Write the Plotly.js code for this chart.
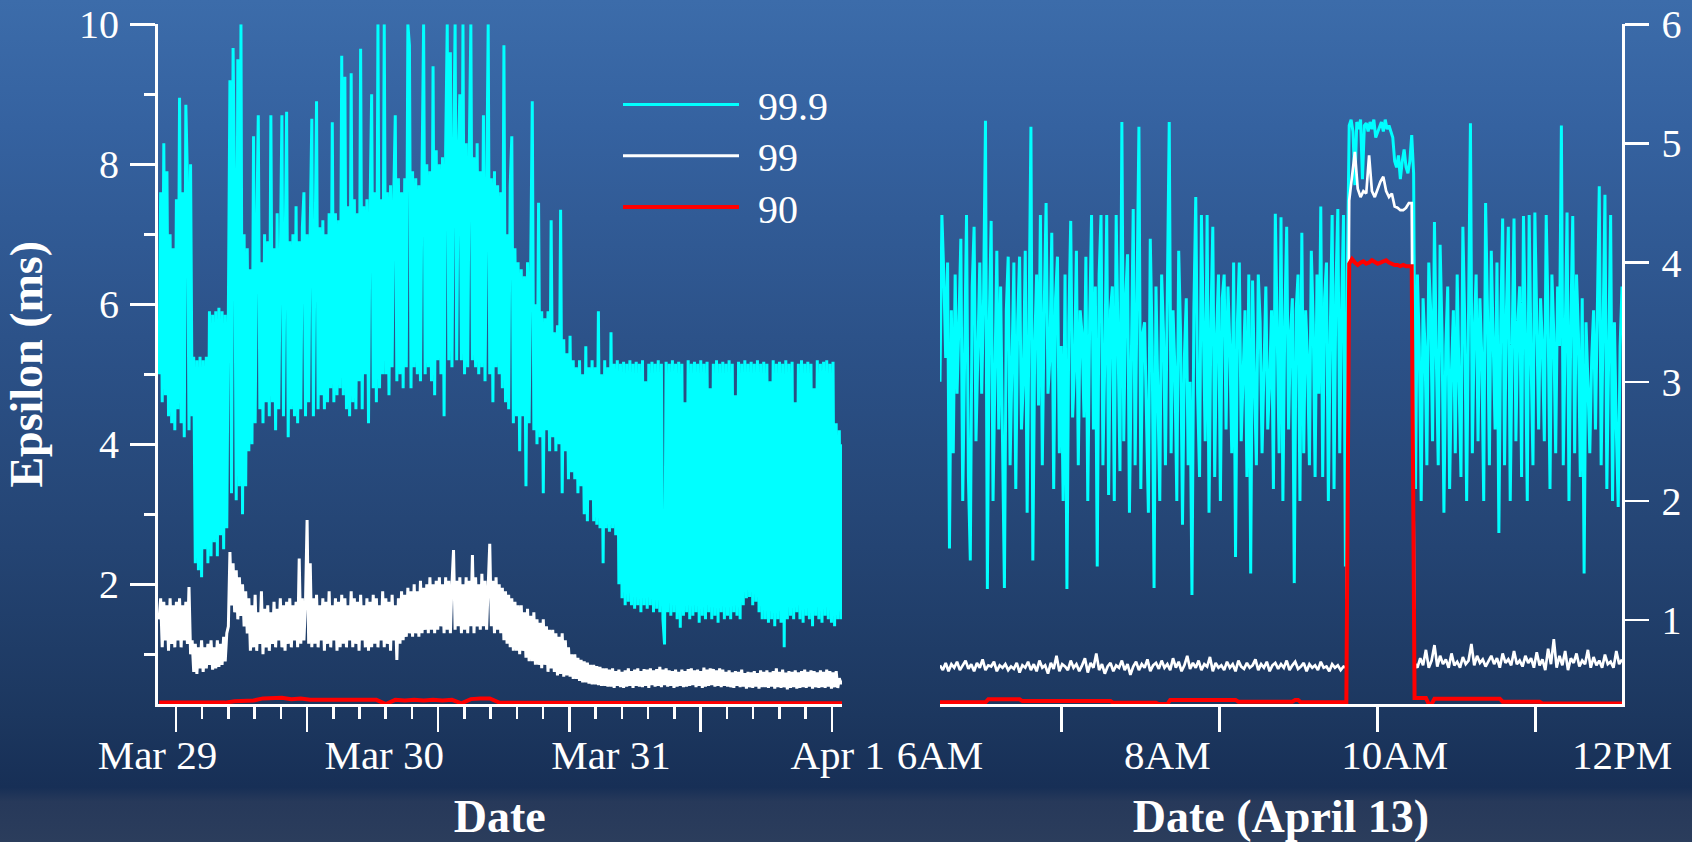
<!DOCTYPE html>
<html>
<head>
<meta charset="utf-8">
<script src="https://cdn.plot.ly/plotly-3.0.1.min.js"></script>
<style>
html,body{margin:0;padding:0;}
#chart{width:1692px;height:842px;
background:linear-gradient(to bottom,#3c6caa 0%,#3562a0 15%,#2c5289 40%,#244473 65%,#1c375f 85%,#172f56 93.5%,#27395a 95.2%,#2b3d5c 100%);}
</style>
</head>
<body>
<div id="chart"></div>
<script>
// ---------------- DATA ----------------
const seriesNames = ['99.9', '99', '90'];

// Left panel: Mar 29 - Apr 1, samples every 10 min starting Mar 29 00:10
const leftStart = '2012-03-29 00:10';
const leftStepMin = 10;
const leftP999 = [
5.0,7.6,4.6,8.3,4.7,7.9,4.4,7.0,4.3,6.8,4.2,7.5,
4.5,8.95,4.3,7.6,4.1,8.85,7.8,4.2,8.0,4.4,5.25,2.3,
5.2,2.2,5.25,2.1,5.2,2.5,5.25,2.3,5.9,2.4,5.85,2.6,
5.9,2.4,5.95,2.7,5.9,2.5,5.85,2.8,5.9,9.2,3.3,9.66,
7.6,3.2,9.5,3.4,10.0,3.0,7.0,3.4,6.8,3.9,6.5,4.0,
8.4,4.3,7.0,8.7,4.5,6.6,4.3,7.0,4.6,6.9,4.4,8.7,
4.6,6.8,4.2,7.3,4.5,6.9,8.7,4.4,7.0,8.75,4.1,6.9,
4.5,7.0,4.4,7.4,4.3,6.9,4.5,7.1,7.6,4.4,7.0,4.6,
7.1,8.65,4.4,7.2,8.9,4.5,7.1,4.7,7.2,4.5,7.0,4.6,
7.3,4.8,8.6,4.6,7.3,4.7,7.2,4.8,9.55,4.7,9.25,4.5,
7.4,4.4,9.3,4.6,7.5,4.5,7.3,4.9,9.65,4.5,7.4,5.0,
7.5,4.3,7.4,9.0,4.8,7.6,4.6,10.0,4.8,7.5,5.0,10.0,
5.0,7.6,4.7,7.7,5.1,7.5,8.7,4.9,7.8,5.0,7.6,4.8,
7.8,5.1,10.0,9.7,4.8,7.9,5.1,7.8,5.0,7.7,4.9,7.9,
10.0,5.0,8.0,5.1,7.9,4.9,9.4,4.7,8.2,5.2,8.0,5.0,
8.1,4.4,8.2,10.0,5.2,9.6,5.1,8.0,10.0,5.2,8.1,9.0,
5.2,10.0,5.0,8.3,5.1,8.2,10.0,5.2,8.1,5.1,8.3,5.0,
7.9,5.1,8.7,4.9,7.9,10.0,5.0,7.8,4.6,7.9,5.1,7.7,
5.0,7.6,4.8,9.7,4.6,7.0,4.5,7.7,8.4,4.3,6.8,4.4,
6.6,3.9,6.5,4.4,6.4,3.4,6.6,4.3,6.5,8.9,4.2,6.0,
4.0,7.45,4.1,5.9,3.3,5.8,4.2,5.9,3.9,7.2,4.1,5.6,
3.9,5.7,4.0,7.35,3.3,5.5,3.9,5.3,3.5,5.55,3.6,5.2,
3.5,5.1,3.3,5.2,3.4,5.0,3.0,5.4,2.9,5.1,3.2,5.2,
2.9,5.1,2.85,5.9,2.8,5.0,2.3,5.2,2.8,5.1,2.75,5.6,
2.8,5.15,2.7,5.2,2.0,5.15,1.8,5.18,1.7,5.15,1.75,5.2,
1.7,5.15,1.65,5.18,1.7,5.15,1.6,5.2,1.7,4.9,1.65,5.15,
1.7,5.18,1.6,5.15,1.65,5.2,1.6,5.15,1.5,1.14,5.18,1.6,
5.15,1.55,5.2,1.6,5.15,1.5,5.18,1.38,5.15,1.55,4.6,1.6,
5.2,1.5,5.15,1.55,5.18,1.6,5.15,1.45,5.2,1.55,5.15,1.5,
5.18,1.6,4.8,1.5,5.15,1.55,5.2,1.45,5.15,1.6,5.18,1.5,
5.15,1.55,5.2,1.5,5.15,1.6,4.7,1.55,5.18,1.5,5.15,1.7,
5.2,1.8,5.15,1.82,5.18,1.7,5.15,1.75,5.2,1.6,5.15,1.5,
5.18,1.5,5.15,1.45,4.9,1.5,5.2,1.4,5.15,1.5,5.18,1.45,
5.15,1.1,5.2,1.5,5.15,1.55,5.18,1.5,4.6,1.6,5.15,1.5,
5.2,1.45,5.15,1.55,5.18,1.5,5.15,1.4,4.8,1.55,5.2,1.5,
5.15,1.45,5.18,1.55,5.2,1.5,5.15,1.45,5.18,1.4,4.3,1.5,
4.2,1.5,4.0
];
const leftP99 = [
1.5,1.8,1.1,1.75,1.2,1.7,1.05,1.8,1.15,1.7,1.1,1.75,
1.2,1.8,1.1,1.7,1.2,1.75,1.15,1.96,1.0,1.2,0.75,1.15,
0.72,1.1,0.8,1.2,0.75,1.1,0.8,1.15,0.85,1.2,0.78,1.1,
0.8,1.2,0.82,1.15,0.85,1.25,0.9,1.3,1.4,2.46,1.7,2.3,
1.6,2.2,1.5,2.1,1.55,2.0,1.4,1.9,1.3,1.8,1.05,1.7,
1.1,1.85,1.05,1.6,1.15,1.9,1.0,1.65,1.1,1.7,1.05,1.6,
1.15,1.75,1.1,1.65,1.2,1.8,1.1,1.7,1.05,1.75,1.15,1.8,
1.1,1.7,1.2,1.75,1.1,2.37,1.15,1.8,1.2,1.75,2.92,1.15,
2.3,1.1,1.8,1.15,1.85,1.1,1.7,1.2,1.8,1.05,1.75,1.15,
1.9,1.1,1.7,1.2,1.8,1.05,1.75,1.1,1.85,1.15,1.8,1.1,
1.7,1.2,1.9,1.1,1.8,1.15,1.75,1.05,1.85,1.2,1.7,1.1,
1.8,1.05,1.75,1.1,1.85,1.15,1.8,1.1,1.7,1.2,1.9,1.1,
1.8,1.15,1.75,1.05,1.85,1.2,1.7,0.92,1.8,1.15,1.9,1.2,
1.85,1.25,1.95,1.3,1.9,1.25,2.0,1.3,1.9,1.25,2.05,1.3,
1.95,1.35,2.0,1.3,2.1,1.35,2.0,1.3,2.05,1.35,2.1,1.4,
2.0,1.3,2.1,1.35,2.05,1.3,2.0,2.49,1.35,2.05,1.4,2.1,
1.3,2.0,1.35,2.1,1.3,2.05,1.4,2.42,1.3,2.1,1.4,2.0,
1.35,2.15,1.4,2.05,1.35,2.1,2.58,1.4,2.05,1.3,2.1,1.35,
2.0,1.3,1.95,1.2,1.9,1.15,1.85,1.1,1.8,1.05,1.75,1.05,
1.7,1.0,1.7,1.05,1.6,0.95,1.65,0.9,1.55,0.9,1.6,0.85,
1.5,0.85,1.45,0.8,1.5,0.85,1.4,0.75,1.35,0.8,1.35,0.75,
1.3,0.7,1.25,0.72,1.3,0.68,1.2,0.7,1.1,0.68,1.0,0.65,
1.0,0.65,0.95,0.62,0.92,0.6,0.9,0.6,0.88,0.58,0.85,0.57,
0.85,0.57,0.83,0.56,0.82,0.55,0.8,0.55,0.8,0.54,0.78,0.54,
0.8,0.52,0.76,0.55,0.78,0.53,0.75,0.52,0.77,0.54,0.8,0.55,
0.76,0.52,0.78,0.55,0.8,0.54,0.76,0.53,0.79,0.55,0.78,0.52,
0.8,0.56,0.77,0.54,0.79,0.55,0.82,0.53,0.78,0.56,0.8,0.54,
0.77,0.55,0.76,0.52,0.78,0.54,0.75,0.55,0.78,0.53,0.76,0.54,
0.79,0.55,0.8,0.56,0.77,0.53,0.78,0.55,0.76,0.52,0.81,0.54,
0.78,0.55,0.8,0.56,0.79,0.54,0.77,0.55,0.8,0.53,0.78,0.55,
0.75,0.54,0.77,0.53,0.74,0.52,0.76,0.55,0.75,0.53,0.78,0.54,
0.73,0.51,0.75,0.53,0.74,0.52,0.76,0.54,0.73,0.51,0.77,0.53,
0.75,0.53,0.77,0.52,0.74,0.54,0.76,0.51,0.8,0.53,0.75,0.52,
0.78,0.53,0.74,0.5,0.76,0.52,0.75,0.53,0.77,0.51,0.74,0.52,
0.76,0.53,0.78,0.52,0.75,0.54,0.77,0.51,0.76,0.53,0.74,0.52,
0.77,0.53,0.75,0.52,0.78,0.54,0.76,0.51,0.74,0.53,0.76,0.52,
0.66,0.58,0.62
];
// 90th percentile, hourly starting Mar 29 00:10
const leftRedStepMin = 60;
const leftP90 = [
0.31,0.31,0.31,0.31,0.31,0.31,0.31,0.31,0.33,0.33,
0.34,0.37,0.37,0.38,0.36,0.37,0.35,0.35,0.36,0.35,
0.35,0.36,0.35,0.35,0.29,0.35,0.34,0.35,0.34,0.35,
0.34,0.35,0.3,0.36,0.37,0.37,0.31,0.31,0.31,0.31,
0.305,0.3,0.3,0.3,0.305,0.3,0.3,0.3,0.3,0.3,
0.3,0.305,0.3,0.3,0.3,0.3,0.305,0.3,0.3,0.3,
0.3,0.3,0.305,0.3,0.3,0.3,0.3,0.305,0.3,0.3,
0.3,0.3,0.3,0.3
];

// Right panel: April 13 from 06:00; 99.9th every 1 min, 99th and 90th every 1.5 min
const rightStart = '2012-04-13 06:00';
const rightCyanStepMin = 1;
const rightStepMin = 1.5;
const rightP999 = [
3.0,4.4,3.9,3.2,4.0,1.6,3.6,2.4,3.9,2.9,3.5,4.2,
2.0,3.3,4.4,2.2,1.5,3.8,4.3,2.5,3.4,4.0,2.9,3.7,
5.19,1.26,3.5,4.35,2.0,3.1,4.1,2.6,3.8,2.5,1.27,3.6,
4.05,2.3,3.2,4.0,2.1,3.5,4.05,2.6,3.0,4.1,1.9,3.4,
5.14,1.5,3.3,3.9,2.8,4.4,2.3,3.6,4.5,2.9,3.2,4.25,
2.1,3.7,4.05,2.4,3.3,2.0,3.9,1.26,3.5,4.35,2.7,3.1,
4.1,2.3,3.6,3.4,2.7,4.05,2.0,3.5,4.4,2.6,3.8,1.45,
3.9,4.4,2.3,3.2,4.4,2.05,3.6,3.8,2.0,4.4,3.1,2.25,
5.18,2.5,3.7,4.07,1.9,3.3,4.45,2.3,3.5,5.14,2.1,3.4,
3.5,2.6,1.9,4.2,3.3,1.27,3.8,2.9,2.0,3.9,3.4,2.3,
4.0,5.18,2.4,3.6,3.1,2.0,4.1,3.4,1.8,3.2,3.7,2.3,
3.0,1.21,3.6,4.55,2.9,2.2,4.4,3.3,2.5,4.4,1.9,3.5,
4.3,2.2,3.4,3.9,2.0,3.7,3.9,2.6,3.8,3.3,2.4,4.0,
1.53,3.5,4.0,2.5,3.1,3.6,2.2,3.9,1.39,3.85,3.0,2.3,
3.9,3.5,2.4,3.1,3.8,2.6,3.0,3.6,2.1,4.41,3.2,2.4,
4.38,2.0,3.5,4.3,2.6,3.4,3.7,1.31,3.6,3.9,2.0,4.25,
2.4,3.6,3.2,2.3,4.1,3.5,2.2,3.9,2.9,4.47,2.2,3.7,
4.0,2.0,3.4,4.4,2.1,3.8,4.45,2.4,3.6,4.4,1.45,3.9,
5.15,5.2,5.1,4.65,5.18,5.12,5.2,4.7,5.15,5.17,5.1,5.18,
5.12,5.2,5.05,5.1,5.15,5.18,5.1,5.2,5.12,5.15,5.1,5.05,
4.85,4.8,4.9,4.7,4.85,4.95,4.8,4.75,4.85,5.07,4.75,2.1,
3.9,3.3,2.0,3.7,3.3,2.3,4.0,3.6,2.5,4.34,3.2,2.3,
4.15,3.4,1.9,3.3,3.8,2.1,3.1,3.6,2.4,3.9,3.0,2.2,
4.3,3.5,2.0,3.8,5.17,2.4,3.4,3.9,2.5,3.7,3.2,2.0,
4.5,3.6,2.3,4.1,3.4,2.6,4.0,1.73,3.5,4.37,2.3,3.6,
4.3,2.0,3.3,4.37,2.5,3.5,3.8,2.2,4.39,3.4,2.0,4.4,
3.2,2.3,4.42,3.6,2.6,3.7,3.3,2.5,4.4,3.5,2.1,3.9,
3.4,2.4,3.8,3.3,5.15,2.3,3.6,4.42,2.0,3.5,4.39,2.4,
3.9,3.4,2.2,3.7,1.39,3.5,3.0,2.4,3.2,3.6,2.6,3.8,
4.64,2.3,3.6,4.57,2.1,3.4,4.4,2.0,3.5,2.6,1.95,3.3,
3.8
];
const rightP99 = [
0.62,0.58,0.64,0.57,0.63,0.6,0.65,0.58,0.62,0.66,
0.59,0.63,0.57,0.64,0.6,0.67,0.58,0.62,0.61,0.65,
0.57,0.62,0.6,0.63,0.58,0.61,0.59,0.64,0.56,0.62,
0.6,0.65,0.58,0.63,0.57,0.66,0.6,0.62,0.55,0.64,
0.59,0.7,0.57,0.63,0.61,0.58,0.66,0.6,0.63,0.57,
0.62,0.68,0.56,0.64,0.6,0.72,0.58,0.63,0.55,0.61,
0.64,0.57,0.62,0.6,0.66,0.58,0.63,0.54,0.61,0.65,
0.58,0.63,0.6,0.67,0.57,0.62,0.64,0.59,0.66,0.6,
0.63,0.58,0.68,0.6,0.65,0.57,0.62,0.7,0.59,0.64,
0.6,0.66,0.58,0.63,0.61,0.69,0.57,0.64,0.6,0.62,
0.58,0.65,0.6,0.63,0.57,0.66,0.61,0.59,0.64,0.6,
0.62,0.67,0.58,0.63,0.6,0.65,0.57,0.62,0.64,0.59,
0.63,0.6,0.66,0.58,0.62,0.65,0.59,0.61,0.64,0.57,
0.63,0.6,0.62,0.58,0.65,0.6,0.61,0.57,0.63,0.6,
0.62,0.58,0.61,0.6,
4.52,4.75,4.93,4.62,4.55,4.6,4.58,4.9,4.6,4.55,
4.62,4.68,4.72,4.6,4.55,4.58,4.47,4.46,4.44,4.44,
4.46,4.5,4.5,
0.64,0.6,0.68,0.62,0.75,0.6,0.66,0.79,0.61,0.7,
0.63,0.67,0.6,0.72,0.62,0.65,0.6,0.69,0.63,0.66,
0.8,0.62,0.7,0.64,0.67,0.61,0.66,0.7,0.63,0.68,
0.6,0.72,0.64,0.67,0.62,0.74,0.63,0.66,0.61,0.7,
0.64,0.68,0.6,0.73,0.62,0.67,0.58,0.76,0.63,0.84,
0.6,0.7,0.62,0.74,0.58,0.68,0.64,0.72,0.61,0.66,
0.63,0.75,0.6,0.69,0.62,0.66,0.6,0.71,0.63,0.65,
0.6,0.74,0.63,0.67
];
const rightP90 = [
0.31,0.31,0.31,0.31,0.31,0.31,0.31,0.31,0.31,0.31,0.31,0.31,0.31,0.31,0.31,0.31,0.31,
0.335,0.335,0.335,0.335,0.335,0.335,0.335,0.335,0.335,0.335,0.335,0.335,
0.32,0.32,0.32,0.32,0.32,0.32,0.32,0.32,0.32,0.32,0.32,0.32,0.32,0.32,0.32,0.32,
0.32,0.32,0.32,0.32,0.32,0.32,0.32,0.32,0.32,0.32,0.32,0.32,0.32,0.32,0.32,0.32,
0.305,0.305,0.305,0.305,0.305,0.305,0.305,0.305,0.305,0.305,0.305,0.305,0.305,0.305,0.305,0.305,
0.295,0.295,0.295,0.295,
0.33,0.33,0.33,0.33,0.33,0.33,0.33,0.33,0.33,0.33,0.33,0.33,
0.33,0.33,0.33,0.33,0.33,0.33,0.33,0.33,0.33,0.33,0.33,0.33,
0.315,0.315,0.315,0.315,0.315,0.315,0.315,0.315,0.315,0.315,
0.315,0.315,0.315,0.315,0.315,0.315,0.315,0.315,0.315,0.315,
0.33,0.33,
0.31,0.31,0.31,0.31,0.31,0.31,0.31,0.31,0.31,0.31,0.31,0.31,0.31,0.31,0.31,0.31,0.31,
3.99,4.03,4.0,3.98,4.0,4.01,3.99,4.0,4.02,4.0,3.99,4.0,4.01,4.02,4.0,3.99,3.98,3.98,3.97,3.98,3.97,3.97,3.97,
0.345,0.345,0.345,0.345,0.345,
0.295,0.295,
0.34,0.34,0.34,0.34,0.34,0.34,0.34,0.34,0.34,0.34,0.34,0.34,
0.34,0.34,0.34,0.34,0.34,0.34,0.34,0.34,0.34,0.34,0.34,0.34,
0.315,0.315,0.315,0.315,0.315,0.315,0.315,0.315,0.315,0.315,0.315,0.315,0.315,0.315,
0.3,0.3,0.3,0.3,0.3,0.3,0.3,0.3,0.3,0.3,0.3,0.3,0.3,0.3,0.3,
0.3,0.3,0.3,0.3,0.3,0.3,0.3,0.3,0.3,0.3,0.3,0.3,0.3,0.3
];

// Axis ticks and labels
const leftRange = ['2012-03-29 00:00', '2012-04-01 00:27'];
const leftMajorTicks = ['2012-03-29 01:56:06','2012-03-29 15:49:26','2012-03-30 05:42:46','2012-03-30 19:36:06','2012-03-31 09:29:26','2012-03-31 23:22:46'];
const leftDayTicks = ['2012-03-29 00:00','2012-03-30 00:00','2012-03-31 00:00','2012-04-01 00:00'];
const leftDayLabels = ['Mar 29','Mar 30','Mar 31','Apr 1'];
const rightRange = ['2012-04-13 06:00', '2012-04-13 12:00'];
const rightMajorTicks = ['2012-04-13 07:04:15','2012-04-13 08:27:35','2012-04-13 09:50:55','2012-04-13 11:14:15'];
const rightHourTicks = ['2012-04-13 06:00','2012-04-13 08:00','2012-04-13 10:00','2012-04-13 12:00'];
const rightHourLabels = ['6AM','8AM','10AM','12PM'];
const leftYRange = [0.286, 10];
const rightYRange = [0.293, 6];

// ---------------- HELPERS ----------------
function toMs(s){
  const [d,t] = s.split(' ');
  const [Y,M,D] = d.split('-').map(Number);
  const [h,m,sec] = (t||'0:0:0').split(':').map(Number);
  return Date.UTC(Y,M-1,D,h||0,m||0,sec||0);
}
function times(start, stepMin, n){
  const t0 = toMs(start); const out = [];
  for(let i=0;i<n;i++) out.push(t0 + i*stepMin*60000);
  return out;
}
function minorBetween(majors, parts){
  const ms = majors.map(toMs); const out = [];
  for(let k=0;k<ms.length-1;k++){
    for(let p=1;p<parts;p++) out.push(ms[k] + (ms[k+1]-ms[k])*p/parts);
  }
  return out;
}

const FONT = '"Liberation Serif", "Times New Roman", Times, serif';
const W = 1692, H = 842;
const colors = {c999:'#00ffff', c99:'#ffffff', c90:'#ff0000'};

const xL = times(leftStart, leftStepMin, leftP999.length);
const xLw = times(leftStart, leftStepMin, leftP99.length);
const xLr = times(leftStart, leftRedStepMin, leftP90.length);
const xRc = times(rightStart, rightCyanStepMin, rightP999.length);
const xR = times(rightStart, rightStepMin, rightP99.length);

const traces = [
  {x:xL, y:leftP999, type:'scatter', mode:'lines', name:seriesNames[0], legendgroup:'a', xaxis:'x', yaxis:'y', line:{color:colors.c999, width:3}, hoverinfo:'skip'},
  {x:xLw, y:leftP99, type:'scatter', mode:'lines', name:seriesNames[1], legendgroup:'b', xaxis:'x', yaxis:'y', line:{color:colors.c99, width:3}, hoverinfo:'skip'},
  {x:xLr, y:leftP90, type:'scatter', mode:'lines', name:seriesNames[2], legendgroup:'c', xaxis:'x', yaxis:'y', line:{color:colors.c90, width:4}, hoverinfo:'skip'},
  {x:xRc, y:rightP999, type:'scatter', mode:'lines', name:seriesNames[0], legendgroup:'a', showlegend:false, xaxis:'x2', yaxis:'y2', line:{color:colors.c999, width:3}, hoverinfo:'skip'},
  {x:xR, y:rightP99, type:'scatter', mode:'lines', name:seriesNames[1], legendgroup:'b', showlegend:false, xaxis:'x2', yaxis:'y2', line:{color:colors.c99, width:2.7}, hoverinfo:'skip'},
  {x:xR, y:rightP90, type:'scatter', mode:'lines', name:seriesNames[2], legendgroup:'c', showlegend:false, xaxis:'x2', yaxis:'y2', line:{color:colors.c90, width:4}, hoverinfo:'skip'},
  // empty carriers so the label axes (x3, x4) are drawn; they contain no visible marks
  {x:leftDayTicks, y:leftDayTicks.map(()=>null), type:'scatter', mode:'lines', xaxis:'x3', yaxis:'y', showlegend:false, hoverinfo:'skip'},
  {x:rightHourTicks, y:rightHourTicks.map(()=>null), type:'scatter', mode:'lines', xaxis:'x4', yaxis:'y2', showlegend:false, hoverinfo:'skip'}
];

const yDom = [1-704.3/H, 1-24.3/H];
const xDomL = [157.5/W, 842/W];
const xDomR = [940/W, 1622/W];
const tickFont = {family:FONT, size:41, color:'#ffffff'};
const titleFont = {family:FONT, size:46, color:'#ffffff'};

const tickAxisBase = {
  type:'date', showticklabels:false, ticks:'outside', ticklen:25, tickwidth:2.5, tickcolor:'#ffffff',
  showline:true, linecolor:'#ffffff', linewidth:2.5, showgrid:false, zeroline:false, fixedrange:true
};
const labelAxisBase = {
  type:'date', tickmode:'array', ticks:'outside', ticklen:14, tickwidth:1, tickcolor:'rgba(0,0,0,0)',
  showline:false, showgrid:false, zeroline:false, tickfont:tickFont, fixedrange:true
};

const LEG_ROW = 51.3;
const layout = {
  width:W, height:H, autosize:false,
  margin:{l:0,r:0,t:0,b:0,pad:0},
  paper_bgcolor:'rgba(0,0,0,0)', plot_bgcolor:'rgba(0,0,0,0)',
  font:{family:FONT, color:'#ffffff'},
  showlegend:true,
  legend:{x:618/W, y:1-72/H, xanchor:'left', yanchor:'top', bgcolor:'rgba(0,0,0,0)', borderwidth:0,
          font:{family:FONT, size:40, color:'#ffffff'}, itemwidth:130, tracegroupgap:0, traceorder:'normal'},
  xaxis: Object.assign({}, tickAxisBase, {domain:xDomL, anchor:'y', range:leftRange, tickmode:'array', tickvals:leftMajorTicks,
          minor:{tickmode:'array', tickvals:minorBetween(leftMajorTicks,5), ticks:'outside', ticklen:12, tickwidth:2.5, tickcolor:'#ffffff', showgrid:false}}),
  xaxis3: Object.assign({}, labelAxisBase, {overlaying:'x', anchor:'y', range:leftRange, tickvals:leftDayTicks, ticktext:leftDayLabels,
          title:{text:'<b>Date</b>', font:titleFont, standoff:30}}),
  xaxis2: Object.assign({}, tickAxisBase, {domain:xDomR, anchor:'y2', range:rightRange, tickmode:'array', tickvals:rightMajorTicks}),
  xaxis4: Object.assign({}, labelAxisBase, {overlaying:'x2', anchor:'y2', range:rightRange, tickvals:rightHourTicks, ticktext:rightHourLabels,
          title:{text:'<b>Date (April 13)</b>', font:titleFont, standoff:30}}),
  yaxis: {domain:yDom, anchor:'x', range:leftYRange, tickmode:'linear', tick0:0, dtick:2,
          ticks:'outside', ticklen:25, tickwidth:2.5, tickcolor:'#ffffff',
          minor:{tickmode:'linear', tick0:0, dtick:1, ticks:'outside', ticklen:11, tickwidth:2.5, tickcolor:'#ffffff', showgrid:false},
          showline:true, linecolor:'#ffffff', linewidth:2.5, showgrid:false, zeroline:false, fixedrange:true,
          tickfont:{family:FONT, size:40, color:'#ffffff'}, ticklabelstandoff:3,
          title:{text:'<b>Epsilon (ms)</b>', font:titleFont, standoff:22}},
  yaxis2: {domain:yDom, anchor:'x2', side:'right', range:rightYRange, tickmode:'linear', tick0:0, dtick:1,
          ticks:'outside', ticklen:24, tickwidth:2.5, tickcolor:'#ffffff',
          showline:true, linecolor:'#ffffff', linewidth:2.5, showgrid:false, zeroline:false, fixedrange:true,
          tickfont:{family:FONT, size:40, color:'#ffffff'}, ticklabelstandoff:5}
};

function fixLegend(){
  document.querySelectorAll('#chart g.legendlines path').forEach(p => p.setAttribute('d','M5,0h116'));
  const items = document.querySelectorAll('#chart g.legend g.traces');
  let y0 = null;
  items.forEach((g, i) => {
    const m = /translate\(\s*([-\d.]+)[ ,]+([-\d.]+)\s*\)/.exec(g.getAttribute('transform') || '');
    if(!m) return;
    if(y0 === null) y0 = parseFloat(m[2]);
    g.setAttribute('transform', 'translate(' + m[1] + ',' + (y0 + i*LEG_ROW) + ')');
  });
}
const gd = document.getElementById('chart');
Plotly.newPlot(gd, traces, layout, {staticPlot:true, displayModeBar:false}).then(() => {
  fixLegend();
  if(gd.on) gd.on('plotly_afterplot', fixLegend);
});
</script>
</body>
</html>
